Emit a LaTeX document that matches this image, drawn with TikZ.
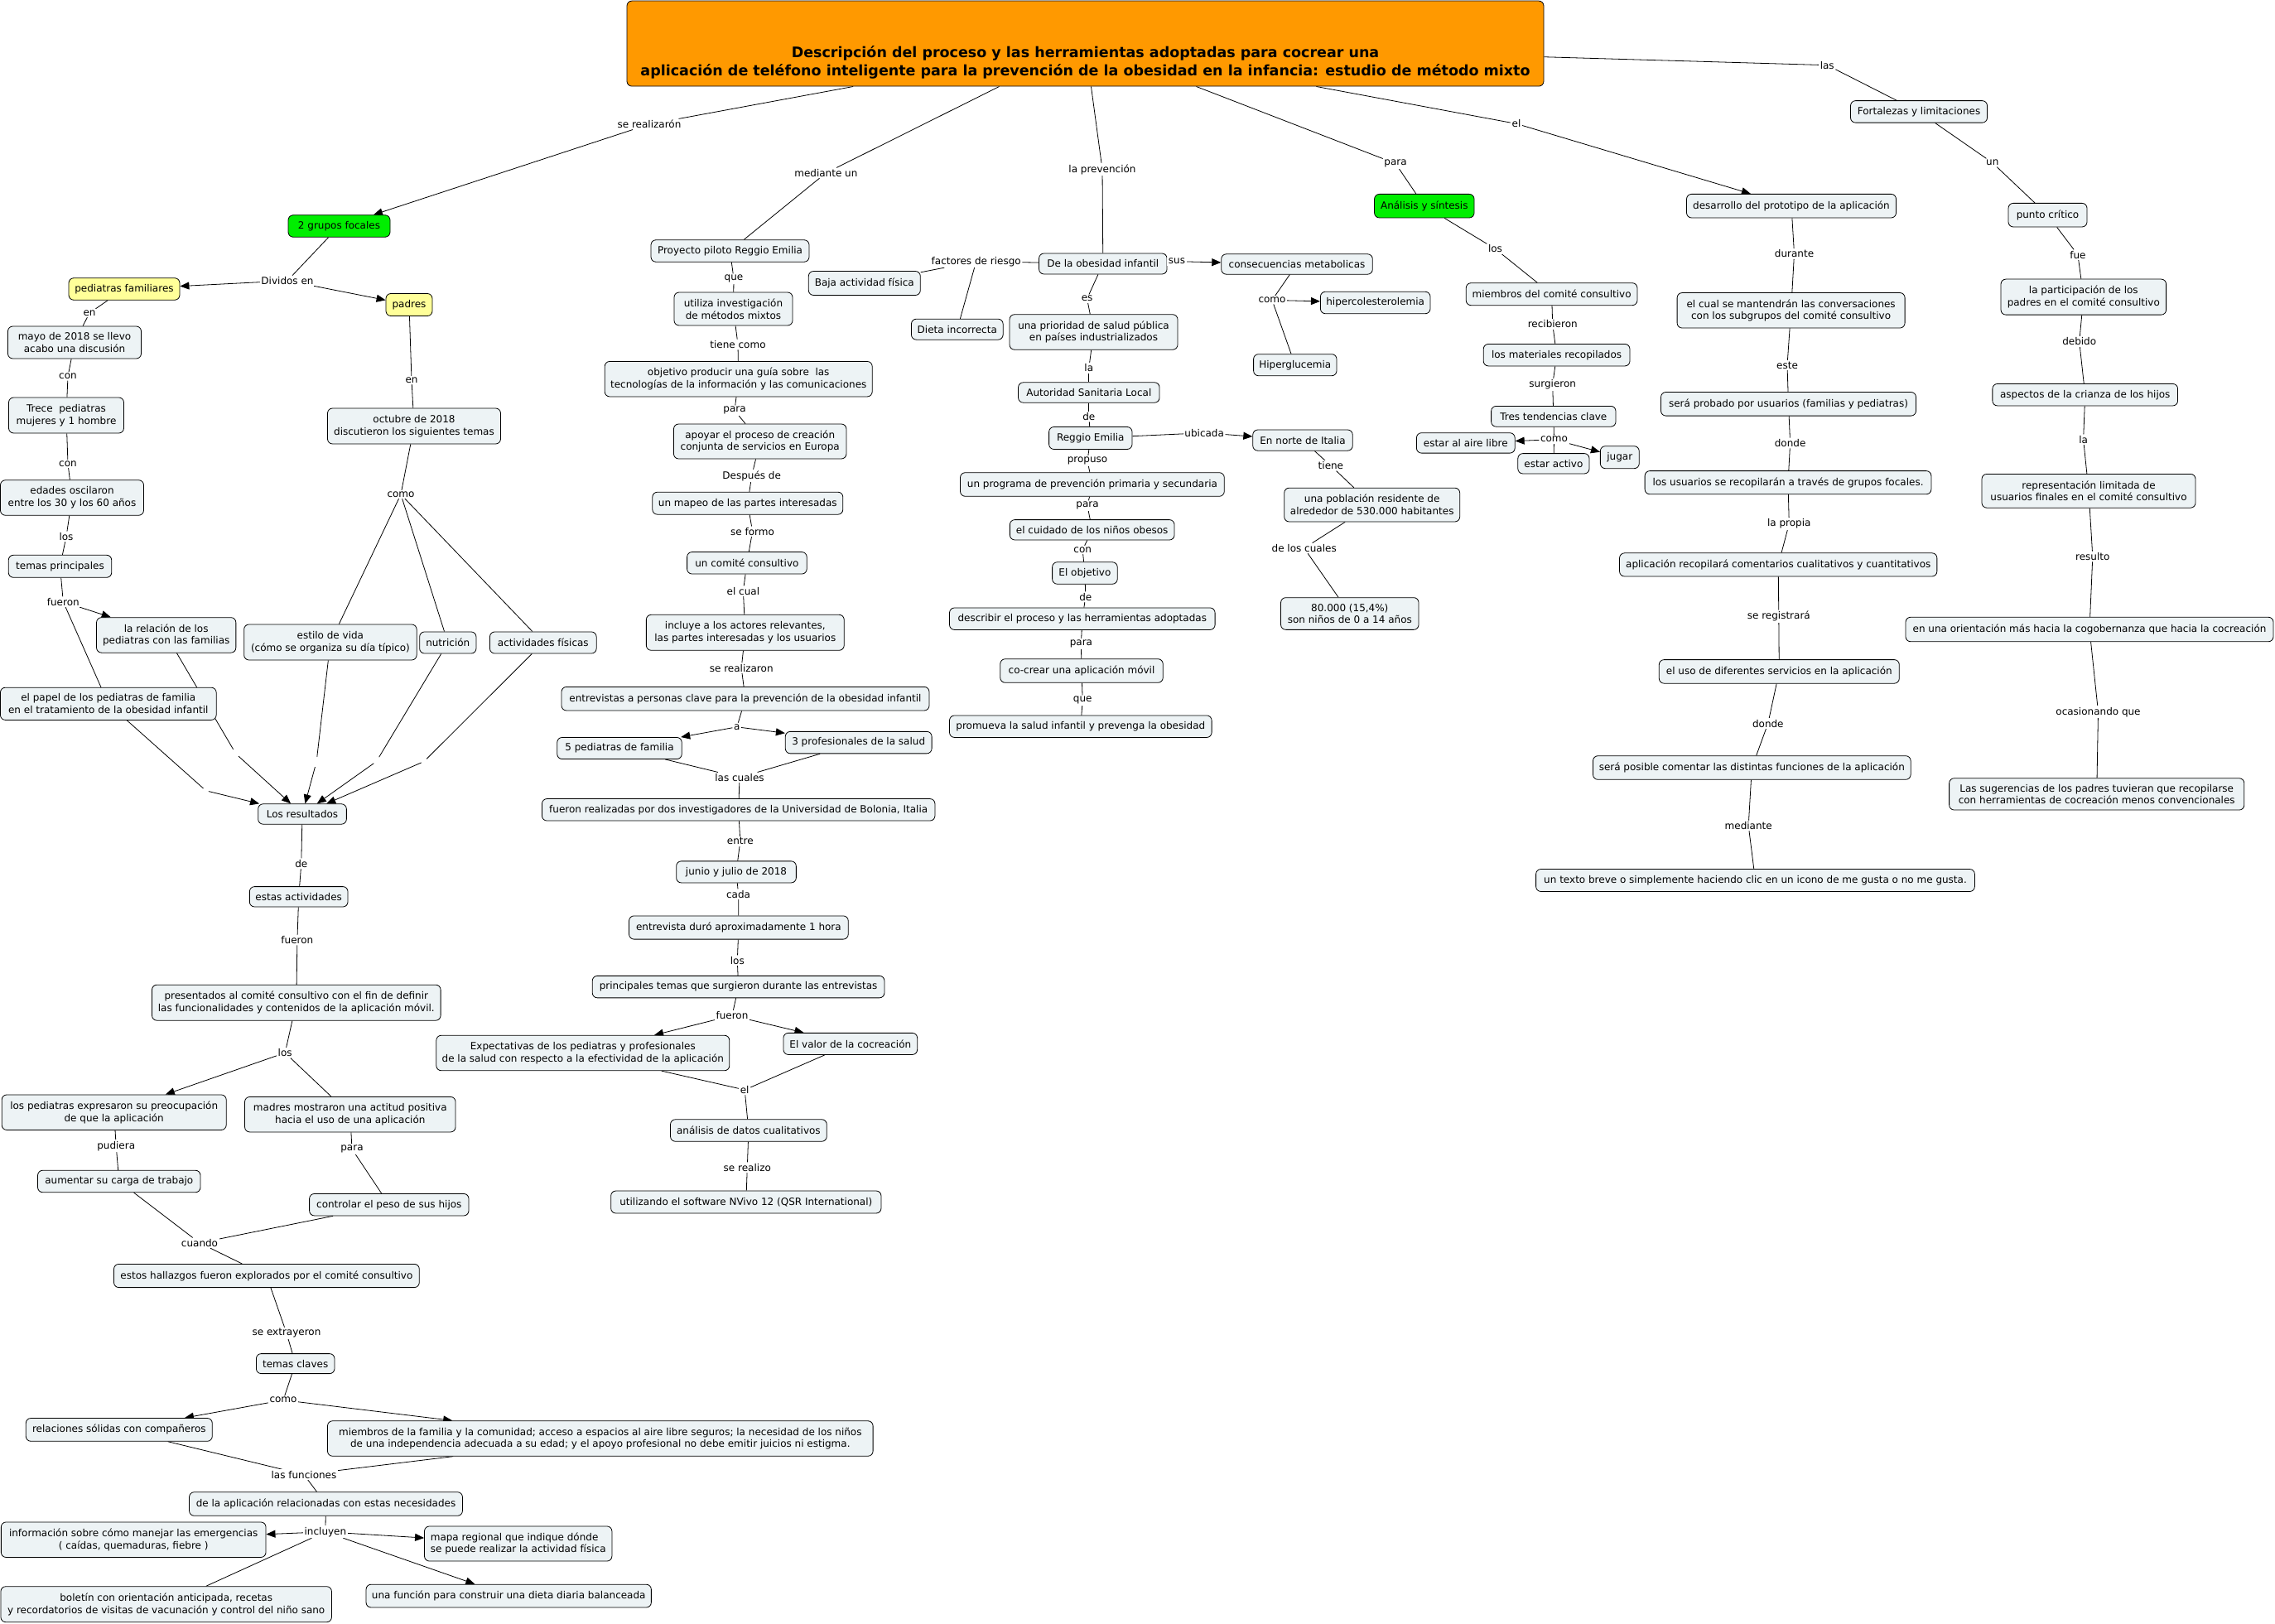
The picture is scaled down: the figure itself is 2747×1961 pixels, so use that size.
\documentclass[tikz,border=0pt]{standalone}
\usepackage{fontspec}
\setmainfont{DejaVu Sans}
\usetikzlibrary{arrows.meta,backgrounds}
\definecolor{cbg}{RGB}{237,243,245}
\definecolor{corange}{RGB}{255,153,0}
\definecolor{cgreen}{RGB}{0,238,0}
\definecolor{cyellow}{RGB}{255,255,153}
\begin{document}
\begin{tikzpicture}[x=1pt,y=-1pt,
  every node/.style={font=\fontsize{12}{14.7}\selectfont},
  cn/.style={draw, line width=0.8pt, fill=cbg, rounded corners=6pt, align=center, inner xsep=3pt, inner ysep=2pt},
  gn/.style={cn, fill=cgreen},
  yn/.style={cn, fill=cyellow},
  sz/.style 2 args={minimum width=#1pt, minimum height=#2pt},
  lb/.style={inner sep=1.5pt, fill=white},
  bk/.style={inner sep=0pt, minimum width=6pt, minimum height=12pt},
  ln/.style={line width=0.8pt},
  ar/.style={line width=0.8pt, -{Triangle[length=11pt,width=9pt]}},
]
\useasboundingbox (0,0) rectangle (2747,1961);

% ---------- title ----------
\node[cn, fill=corange, sz={1107}{103}, inner sep=0pt, font=\fontsize{17.5}{22}\selectfont\bfseries] (T) at (1310.5,52.6)
 {\rule{0pt}{60pt}Descripción del proceso y las herramientas adoptadas para cocrear una\\aplicación de teléfono inteligente para la prevención de la obesidad en la infancia: estudio de método mixto};

% ---------- left column ----------
\node[gn, sz={123}{26.5}] (G2) at (409.5,273) {2 grupos focales};
\node[yn, sz={134}{26.5}] (Ped) at (150,349) {pediatras familiares};
\node[yn, sz={56}{27}] (Pad) at (494,368) {padres};
\node[cn, sz={161}{39}] (Mayo) at (90,413.5) {mayo de 2018 se llevo\\acabo una discusión};
\node[cn, sz={139}{43}] (Trece) at (80,501.5) {Trece~ pediatras\\mujeres y 1 hombre};
\node[cn, sz={173}{42.5}] (Edad) at (87,601) {edades oscilaron\\entre los 30 y los 60 años};
\node[cn, sz={124.5}{27}] (TemP) at (72.5,683.8) {temas principales};
\node[cn, sz={168.3}{42.5}] (Rel) at (200.7,766.9) {la relación de los\\pediatras con las familias};
\node[cn, sz={260.7}{39.2}] (Papel) at (130.8,849.8) {el papel de los pediatras de familia\\en el tratamiento de la obesidad infantil};
\node[cn, sz={209}{43}] (Oct) at (500,514.5) {octubre de 2018\\discutieron los siguientes temas};
\node[cn, sz={208.5}{43}] (Est) at (398.9,775.5) {estilo de vida\\(cómo se organiza su día típico)};
\node[cn, sz={68.3}{26.1}] (Nut) at (540.8,776) {nutrición};
\node[cn, sz={128.7}{26.1}] (Act) at (655.8,776) {actividades físicas};
\node[cn, sz={106.7}{24.4}] (Res) at (365,983) {Los resultados};
\node[cn, sz={118.7}{24.4}] (EstAct) at (360.7,1082.8) {estas actividades};
\node[cn, sz={348.6}{43}] (Pres) at (357.8,1210.7) {presentados al comité consultivo con el fin de definir\\las funcionalidades y contenidos de la aplicación móvil.};
\node[cn, sz={271}{42.5}] (PedExp) at (137.7,1343.2) {los pediatras expresaron su preocupación\\de que la aplicación};
\node[cn, sz={254.5}{42.5}] (Madres) at (422.8,1345.7) {madres mostraron una actitud positiva\\hacia el uso de una aplicación};
\node[cn, sz={196.5}{26.5}] (Aum) at (143.8,1426.5) {aumentar su carga de trabajo};
\node[cn, sz={192.4}{26.5}] (Contr) at (469.8,1454.7) {controlar el peso de sus hijos};
\node[cn, sz={368.8}{28.2}] (Hall) at (321.9,1540.5) {estos hallazgos fueron explorados por el comité consultivo};
\node[cn, sz={94.6}{24}] (TemC) at (356.7,1646.6) {temas claves};
\node[cn, sz={225}{27.8}] (Relac) at (143.8,1726.4) {relaciones sólidas con compañeros};
\node[cn, sz={658.6}{42.5}] (Miem) at (724.8,1737) {miembros de la familia y la comunidad; acceso a espacios al aire libre seguros; la necesidad de los niños\\de una independencia adecuada a su edad; y el apoyo profesional no debe emitir juicios ni estigma.};
\node[cn, sz={329.9}{28.6}] (DeApp) at (393.5,1816) {de la aplicación relacionadas con estas necesidades};
\node[cn, sz={319.7}{42.5}] (Info) at (161.2,1859.2) {información sobre cómo manejar las emergencias\\( caídas, quemaduras, fiebre )};
\node[cn, sz={226.4}{42.1}, align=left] (Mapa) at (625.7,1864) {mapa regional que indique dónde\\se puede realizar la actividad física};
\node[cn, sz={399.5}{43}] (Bol) at (200.7,1937.2) {boletín con orientación anticipada, recetas\\y recordatorios de visitas de vacunación y control del niño sano};
\node[cn, sz={344.3}{27.8}] (Func) at (614.2,1927.1) {una función para construir una dieta diaria balanceada};

% ---------- middle column ----------
\node[cn, sz={191}{26.5}] (Proy) at (881.5,303) {Proyecto piloto Reggio Emilia};
\node[cn, sz={143}{40}] (Util) at (885.5,373) {utiliza investigación\\de métodos mixtos};
\node[cn, sz={323}{42.5}] (Obj) at (891.7,457.7) {objetivo producir una guía sobre~ las\\tecnologías de la información y las comunicaciones};
\node[cn, sz={208.5}{42}] (Apoy) at (917.7,533) {apoyar el proceso de creación\\conjunta de servicios en Europa};
\node[cn, sz={230}{27}] (Mapeo) at (902.8,607.7) {un mapeo de las partes interesadas};
\node[cn, sz={144.6}{26.5}] (Comite) at (901.9,679.8) {un comité consultivo};
\node[cn, sz={238.9}{43}] (Incl) at (899.8,763.8) {incluye a los actores relevantes,\\las partes interesadas y los usuarios};
\node[cn, sz={444}{28.6}] (Entr) at (900,843.7) {entrevistas a personas clave para la prevención de la obesidad infantil};
\node[cn, sz={150.5}{26.1}] (Ped5) at (748,903.5) {5 pediatras de familia};
\node[cn, sz={176.8}{26.5}] (Prof3) at (1036.7,896.6) {3 profesionales de la salud};
\node[cn, sz={474.5}{26.5}] (Fuer) at (891.7,977.8) {fueron realizadas por dos investigadores de la Universidad de Bolonia, Italia};
\node[cn, sz={144.7}{26.1}] (Jun) at (889,1052.9) {junio y julio de 2018};
\node[cn, sz={264.7}{28.2}] (EntrD) at (891.9,1120) {entrevista duró aproximadamente 1 hora};
\node[cn, sz={352.7}{26.5}] (PrinT) at (891.6,1191.6) {principales temas que surgieron durante las entrevistas};
\node[cn, sz={354}{42.5}] (Expe) at (703.8,1271.5) {Expectativas de los pediatras y profesionales\\de la salud con respecto a la efectividad de la aplicación};
\node[cn, sz={161.7}{26.1}] (Valor) at (1026.8,1260.4) {El valor de la cocreación};
\node[cn, sz={188.8}{26.5}] (AnalD) at (903.9,1365) {análisis de datos cualitativos};
\node[cn, sz={326.3}{27}] (NVivo) at (900.8,1451.5) {utilizando el software NVivo 12 (QSR International)};

% ---------- obesity column ----------
\node[cn, sz={135}{29}] (Baja) at (1043.8,342) {Baja actividad física};
\node[cn, sz={110.7}{25}] (Dieta) at (1155.8,397.7) {Dieta incorrecta};
\node[cn, sz={154.5}{25}] (Obes) at (1331.8,318.5) {De la obesidad infantil};
\node[cn, sz={203}{42.5}] (Prior) at (1320.5,401) {una prioridad de salud pública\\en países industrializados};
\node[cn, sz={170.5}{24.4}] (Auto) at (1314.8,474) {Autoridad Sanitaria Local};
\node[cn, sz={100.4}{27}] (Regg) at (1316.8,529) {Reggio Emilia};
\node[cn, sz={318.8}{28.6}] (Prog) at (1318.9,585) {un programa de prevención primaria y secundaria};
\node[cn, sz={198.7}{24.4}] (Cuid) at (1318.7,639.8) {el cuidado de los niños obesos};
\node[cn, sz={78.6}{26.5}] (ObjE) at (1309.9,692) {El objetivo};
\node[cn, sz={320.6}{26.5}] (Desc) at (1306.8,747.2) {describir el proceso y las herramientas adoptadas};
\node[cn, sz={196.5}{28.6}] (Cocr) at (1306,810) {co-crear una aplicación móvil};
\node[cn, sz={316.6}{26.5}] (Prom) at (1304.8,877.2) {promueva la salud infantil y prevenga la obesidad};
\node[cn, sz={182.6}{24.4}] (Cons) at (1566,319) {consecuencias metabolicas};
\node[cn, sz={132.6}{26.5}] (Hiperc) at (1660.7,365.5) {hipercolesterolemia};
\node[cn, sz={100.4}{26.1}] (Hipergl) at (1563.8,440.7) {Hiperglucemia};
\node[cn, sz={120.5}{25.2}] (Norte) at (1573,531.6) {En norte de Italia};
\node[cn, sz={212}{40.8}] (Pobl) at (1656.7,609.6) {una población residente de\\alrededor de 530.000 habitantes};
\node[cn, sz={166.5}{38.7}] (N80) at (1629.8,741) {80.000 (15,4\%)\\son niños de 0 a 14 años};

% ---------- analysis column ----------
\node[gn, sz={120.5}{28.6}] (Anal) at (1719.8,248.7) {Análisis y síntesis};
\node[cn, sz={206.7}{27}] (MiemC) at (1873.6,355.2) {miembros del comité consultivo};
\node[cn, sz={176.8}{26.5}] (Mater) at (1879.6,428.7) {los materiales recopilados};
\node[cn, sz={150.4}{24.8}] (Tres) at (1875.8,502.8) {Tres tendencias clave};
\node[cn, sz={118.8}{24.4}] (Aire) at (1769.8,534.9) {estar al aire libre};
\node[cn, sz={86.2}{24.4}] (Activo) at (1875.9,559.8) {estar activo};
\node[cn, sz={46.9}{27}] (Jugar) at (1955.8,552.2) {jugar};

% ---------- development column ----------
\node[cn, sz={253}{28.6}] (Desa) at (2163,248.7) {desarrollo del prototipo de la aplicación};
\node[cn, sz={275}{42.5}] (Cual) at (2162.6,374.8) {el cual se mantendrán las conversaciones\\con los subgrupos del comité consultivo};
\node[cn, sz={308}{28.6}] (Prob) at (2159.5,487.8) {será probado por usuarios (familias y pediatras)};
\node[cn, sz={345.8}{28.2}] (Usu) at (2159,582.7) {los usuarios se recopilarán a través de grupos focales.};
\node[cn, sz={383.3}{28.2}] (AppR) at (2147.2,681.9) {aplicación recopilará comentarios cualitativos y cuantitativos};
\node[cn, sz={290}{28.6}] (Uso) at (2148.3,810.9) {el uso de diferentes servicios en la aplicación};
\node[cn, sz={383.7}{28.6}] (Posib) at (2115.3,927) {será posible comentar las distintas funciones de la aplicación};
\node[cn, sz={529.8}{27}] (Texto) at (2119.5,1063) {un texto breve o simplemente haciendo clic en un icono de me gusta o no me gusta.};

% ---------- strengths column ----------
\node[cn, sz={165}{26.5}] (Fort) at (2317,134.9) {Fortalezas y limitaciones};
\node[cn, sz={95}{28.6}] (Punto) at (2472.5,259.7) {punto crítico};
\node[cn, sz={199.6}{43}] (Part) at (2515.8,358.6) {la participación de los\\padres en el comité consultivo};
\node[cn, sz={223.7}{26.5}] (Asp) at (2517.7,476.7) {aspectos de la crianza de los hijos};
\node[cn, sz={258}{40.8}] (Repr) at (2522,592.8) {representación limitada de\\usuarios finales en el comité consultivo};
\node[cn, sz={444}{29.5}] (Orient) at (2523,760) {en una orientación más hacia la cogobernanza que hacia la cocreación};
\node[cn, sz={356.2}{38.3}] (Sug) at (2531.7,958.9) {Las sugerencias de los padres tuvieran que recopilarse\\con herramientas de cocreación menos convencionales};

% ---------- linking phrases ----------
\node[lb] (lSeReal) at (784,150) {se realizarón};
\node[lb] (lMed) at (997.4,208.8) {mediante un};
\node[lb] (lPrev) at (1331,204.5) {la prevención};
\node[lb] (lPara) at (1685,197.4) {para};
\node[lb] (lEl) at (1831,149.4) {el};
\node[lb] (lLas) at (2206.2,78.7) {las};
\node[lb] (lDiv) at (347,339) {Dividos en};
\node[lb] (lEn1) at (108,378) {en};
\node[lb] (lCon1) at (82,454.5) {con};
\node[lb] (lCon2) at (82,560) {con};
\node[lb] (lLos1) at (80,648) {los};
\node[lb] (lFue1) at (76.3,726.7) {fueron};
\node[lb] (lEn2) at (497,459) {en};
\node[lb] (lComo1) at (484,597) {como};
\node[bk] (b1) at (248.7,954.8) {};
\node[bk] (b2) at (284.8,910.2) {};
\node[bk] (b3) at (382.1,919.9) {};
\node[bk] (b4) at (454.5,919.5) {};
\node[bk] (b5) at (512,919.5) {};
\node[lb] (lDe1) at (363.8,1042.8) {de};
\node[lb] (lFue2) at (358.9,1135) {fueron};
\node[lb] (lLos2) at (344.2,1271.3) {los};
\node[lb] (lPud) at (140.2,1383.8) {pudiera};
\node[lb] (lPara2) at (425,1387.5) {para};
\node[lb] (lCuando) at (241,1500.8) {cuando};
\node[lb] (lExtr) at (346,1609.8) {se extrayeron};
\node[lb] (lComo2) at (342,1690.6) {como};
\node[lb] (lFunc) at (367,1780.6) {las funciones};
\node[lb] (lIncl) at (392.9,1849.7) {incluyen};
\node[lb] (lQue1) at (886,336.7) {que};
\node[lb] (lTiene) at (891,416) {tiene como};
\node[lb] (lPara1) at (887,495.8) {para};
\node[lb] (lDesp) at (907.7,574.5) {Después de};
\node[lb] (lForm) at (908.6,641.8) {se formo};
\node[lb] (lCual) at (897.4,713.7) {el cual};
\node[lb] (lSeRz) at (895.2,806.7) {se realizaron};
\node[lb] (lA) at (889.8,877.8) {a};
\node[lb] (lCuales) at (893,938.8) {las cuales};
\node[lb] (lEntre) at (893.8,1015.8) {entre};
\node[lb] (lCada) at (891.6,1079.8) {cada};
\node[lb] (lLos3) at (890.3,1159.8) {los};
\node[lb] (lFue3) at (884,1226.3) {fueron};
\node[lb] (lEl2) at (899.2,1316) {el};
\node[lb] (lSeRlz) at (902.3,1409.8) {se realizo};
\node[lb] (lFact) at (1178.7,315.7) {factores de riesgo};
\node[lb] (lSus) at (1421,315.7) {sus};
\node[lb] (lComo3) at (1536,362.4) {como};
\node[lb] (lEs) at (1312.6,360.7) {es};
\node[lb] (lLa1) at (1314.8,444.4) {la};
\node[lb] (lDe2) at (1314.8,503) {de};
\node[lb] (lUbic) at (1454.2,522.7) {ubicada};
\node[lb] (lTiene2) at (1606.9,562.3) {tiene};
\node[lb] (lDeLos) at (1574.7,661.9) {de los cuales};
\node[lb] (lProp) at (1313,556.4) {propuso};
\node[lb] (lPara3) at (1313,610.7) {para};
\node[lb] (lCon3) at (1307.2,664) {con};
\node[lb] (lDe3) at (1310.8,720.8) {de};
\node[lb] (lPara4) at (1305.4,777.6) {para};
\node[lb] (lQue2) at (1307.2,845.8) {que};
\node[lb] (lLos4) at (1805.5,300.5) {los};
\node[lb] (lRecib) at (1874.7,391.4) {recibieron};
\node[lb] (lSurg) at (1874.7,464.6) {surgieron};
\node[lb] (lComo4) at (1876.5,530.7) {como};
\node[lb] (lDur) at (2166.5,306.4) {durante};
\node[lb] (lEste) at (2158,441) {este};
\node[lb] (lDonde1) at (2161.6,535) {donde};
\node[lb] (lPropia) at (2160.3,632.6) {la propia};
\node[lb] (lReg) at (2147.8,744.4) {se registrará};
\node[lb] (lDonde2) at (2134.8,873.6) {donde};
\node[lb] (lMedi) at (2111.2,996.9) {mediante};
\node[lb] (lUn) at (2405.8,196.5) {un};
\node[lb] (lFue4) at (2508.9,307.7) {fue};
\node[lb] (lDeb) at (2510.7,412.5) {debido};
\node[lb] (lLa2) at (2515.6,530.7) {la};
\node[lb] (lRes) at (2526.8,672) {resulto};
\node[lb] (lOcas) at (2533.5,859.7) {ocasionando que};

% ---------- connectors ----------
\begin{pgfonlayer}{background}
\draw[ln] (T) -- (lSeReal); \draw[ar] (lSeReal) -- (G2);
\draw[ln] (T) -- (lMed); \draw[ln] (lMed) -- (Proy);
\draw[ln] (T) -- (lPrev); \draw[ln] (lPrev) -- (Obes);
\draw[ln] (T) -- (lPara); \draw[ln] (lPara) -- (Anal);
\draw[ln] (T) -- (lEl); \draw[ar] (lEl) -- (Desa);
\draw[ln] (T) -- (lLas); \draw[ln] (lLas) -- (Fort);
% left
\draw[ln] (G2) -- (lDiv); \draw[ar] (lDiv) -- (Ped); \draw[ar] (lDiv) -- (Pad);
\draw[ln] (Ped) -- (lEn1); \draw[ln] (lEn1) -- (Mayo);
\draw[ln] (Mayo) -- (lCon1); \draw[ln] (lCon1) -- (Trece);
\draw[ln] (Trece) -- (lCon2); \draw[ln] (lCon2) -- (Edad);
\draw[ln] (Edad) -- (lLos1); \draw[ln] (lLos1) -- (TemP);
\draw[ln] (TemP) -- (lFue1); \draw[ar] (lFue1) -- (Rel); \draw[ln] (lFue1) -- (Papel);
\draw[ln] (Pad) -- (lEn2); \draw[ln] (lEn2) -- (Oct);
\draw[ln] (Oct) -- (lComo1); \draw[ln] (lComo1) -- (Est); \draw[ln] (lComo1) -- (Nut); \draw[ln] (lComo1) -- (Act);
\draw[ln] (Papel) -- (b1); \draw[ar] (b1) -- (Res);
\draw[ln] (Rel) -- (b2); \draw[ar] (b2) -- (Res);
\draw[ln] (Est) -- (b3); \draw[ar] (b3) -- (Res);
\draw[ln] (Nut) -- (b4); \draw[ar] (b4) -- (Res);
\draw[ln] (Act) -- (b5); \draw[ar] (b5) -- (Res);
\draw[ln] (Res) -- (lDe1); \draw[ln] (lDe1) -- (EstAct);
\draw[ln] (EstAct) -- (lFue2); \draw[ln] (lFue2) -- (Pres);
\draw[ln] (Pres) -- (lLos2); \draw[ar] (lLos2) -- (PedExp); \draw[ln] (lLos2) -- (Madres);
\draw[ln] (PedExp) -- (lPud); \draw[ln] (lPud) -- (Aum);
\draw[ln] (Madres) -- (lPara2); \draw[ln] (lPara2) -- (Contr);
\draw[ln] (Aum) -- (lCuando); \draw[ln] (Contr) -- (lCuando); \draw[ln] (lCuando) -- (Hall);
\draw[ln] (Hall) -- (lExtr); \draw[ln] (lExtr) -- (TemC);
\draw[ln] (TemC) -- (lComo2); \draw[ar] (lComo2) -- (Relac); \draw[ar] (lComo2) -- (Miem);
\draw[ln] (Relac) -- (lFunc); \draw[ln] (Miem) -- (lFunc); \draw[ln] (lFunc) -- (DeApp);
\draw[ln] (DeApp) -- (lIncl); \draw[ar] (lIncl) -- (Info); \draw[ar] (lIncl) -- (Mapa);
\draw[ar] (lIncl) -- (Func); \draw[ln] (lIncl) -- (Bol);
% middle
\draw[ln] (Proy) -- (lQue1); \draw[ln] (lQue1) -- (Util);
\draw[ln] (Util) -- (lTiene); \draw[ln] (lTiene) -- (Obj);
\draw[ln] (Obj) -- (lPara1); \draw[ln] (lPara1) -- (Apoy);
\draw[ln] (Apoy) -- (lDesp); \draw[ln] (lDesp) -- (Mapeo);
\draw[ln] (Mapeo) -- (lForm); \draw[ln] (lForm) -- (Comite);
\draw[ln] (Comite) -- (lCual); \draw[ln] (lCual) -- (Incl);
\draw[ln] (Incl) -- (lSeRz); \draw[ln] (lSeRz) -- (Entr);
\draw[ln] (Entr) -- (lA); \draw[ar] (lA) -- (Ped5); \draw[ar] (lA) -- (Prof3);
\draw[ln] (Ped5) -- (lCuales); \draw[ln] (Prof3) -- (lCuales); \draw[ln] (lCuales) -- (Fuer);
\draw[ln] (Fuer) -- (lEntre); \draw[ln] (lEntre) -- (Jun);
\draw[ln] (Jun) -- (lCada); \draw[ln] (lCada) -- (EntrD);
\draw[ln] (EntrD) -- (lLos3); \draw[ln] (lLos3) -- (PrinT);
\draw[ln] (PrinT) -- (lFue3); \draw[ar] (lFue3) -- (Expe); \draw[ar] (lFue3) -- (Valor);
\draw[ln] (Expe) -- (lEl2); \draw[ln] (Valor) -- (lEl2); \draw[ln] (lEl2) -- (AnalD);
\draw[ln] (AnalD) -- (lSeRlz); \draw[ln] (lSeRlz) -- (NVivo);
% obesity
\draw[ln] (Obes) -- (lFact); \draw[ln] (lFact) -- (Baja); \draw[ln] (lFact) -- (Dieta);
\draw[ln] (Obes) -- (lSus); \draw[ar] (lSus) -- (Cons);
\draw[ln] (Cons) -- (lComo3); \draw[ar] (lComo3) -- (Hiperc); \draw[ln] (lComo3) -- (Hipergl);
\draw[ln] (Obes) -- (lEs); \draw[ln] (lEs) -- (Prior);
\draw[ln] (Prior) -- (lLa1); \draw[ln] (lLa1) -- (Auto);
\draw[ln] (Auto) -- (lDe2); \draw[ln] (lDe2) -- (Regg);
\draw[ln] (Regg) -- (lUbic); \draw[ar] (lUbic) -- (Norte);
\draw[ln] (Norte) -- (lTiene2); \draw[ln] (lTiene2) -- (Pobl);
\draw[ln] (Pobl) -- (lDeLos); \draw[ln] (lDeLos) -- (N80);
\draw[ln] (Regg) -- (lProp); \draw[ln] (lProp) -- (Prog);
\draw[ln] (Prog) -- (lPara3); \draw[ln] (lPara3) -- (Cuid);
\draw[ln] (Cuid) -- (lCon3); \draw[ln] (lCon3) -- (ObjE);
\draw[ln] (ObjE) -- (lDe3); \draw[ln] (lDe3) -- (Desc);
\draw[ln] (Desc) -- (lPara4); \draw[ln] (lPara4) -- (Cocr);
\draw[ln] (Cocr) -- (lQue2); \draw[ln] (lQue2) -- (Prom);
% analysis
\draw[ln] (Anal) -- (lLos4); \draw[ln] (lLos4) -- (MiemC);
\draw[ln] (MiemC) -- (lRecib); \draw[ln] (lRecib) -- (Mater);
\draw[ln] (Mater) -- (lSurg); \draw[ln] (lSurg) -- (Tres);
\draw[ln] (Tres) -- (lComo4); \draw[ar] (lComo4) -- (Aire); \draw[ar] (lComo4) -- (Jugar); \draw[ln] (lComo4) -- (Activo);
% development
\draw[ln] (Desa) -- (lDur); \draw[ln] (lDur) -- (Cual);
\draw[ln] (Cual) -- (lEste); \draw[ln] (lEste) -- (Prob);
\draw[ln] (Prob) -- (lDonde1); \draw[ln] (lDonde1) -- (Usu);
\draw[ln] (Usu) -- (lPropia); \draw[ln] (lPropia) -- (AppR);
\draw[ln] (AppR) -- (lReg); \draw[ln] (lReg) -- (Uso);
\draw[ln] (Uso) -- (lDonde2); \draw[ln] (lDonde2) -- (Posib);
\draw[ln] (Posib) -- (lMedi); \draw[ln] (lMedi) -- (Texto);
% strengths
\draw[ln] (Fort) -- (lUn); \draw[ln] (lUn) -- (Punto);
\draw[ln] (Punto) -- (lFue4); \draw[ln] (lFue4) -- (Part);
\draw[ln] (Part) -- (lDeb); \draw[ln] (lDeb) -- (Asp);
\draw[ln] (Asp) -- (lLa2); \draw[ln] (lLa2) -- (Repr);
\draw[ln] (Repr) -- (lRes); \draw[ln] (lRes) -- (Orient);
\draw[ln] (Orient) -- (lOcas); \draw[ln] (lOcas) -- (Sug);
\end{pgfonlayer}
\end{tikzpicture}
\end{document}
